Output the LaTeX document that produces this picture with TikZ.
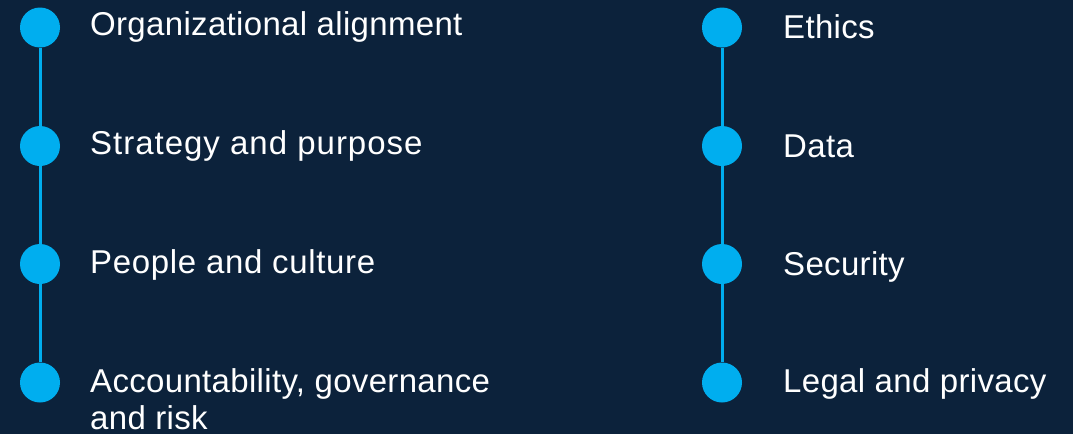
\documentclass[tikz,border=0pt]{standalone}
\usepackage{fontspec}
\setmainfont{Liberation Sans}[LetterSpace=1.0]
\usepackage{tikz}
\definecolor{navy}{HTML}{0C223B}
\definecolor{dotblue}{HTML}{00AEEF}
\newcommand{\itemSize}[0]{\fontsize{33}{37}\selectfont}

\begin{document}
\begin{tikzpicture}[x=1pt, y=-1pt]
  \tikzset{dot/.style={circle,fill=dotblue,minimum size=40pt,inner sep=0pt},
    link/.style={draw=dotblue,line width=3pt},
    item/.style={text=white,font=\itemSize,anchor=base west,align=left,inner sep=0pt},
    wide/.style={execute at begin node={\addfontfeature{LetterSpace=#1}}}}
  \fill[navy] (0,0) rectangle (1073,434);
  \useasboundingbox (0,0) rectangle (1073,434);
  \node[dot](L-1) at (40,27.5){};
  \node[dot](L-2) at (40,146){};
  \node[dot](L-3) at (40,264){};
  \node[dot](L-4) at (40,382.5){};
  \node[dot](R-1) at (722,27.5){};
  \node[dot](R-2) at (722,146){};
  \node[dot](R-3) at (722,264){};
  \node[dot](R-4) at (722,382.5){};
  \draw[link] (L-1) -- (L-2);
  \draw[link] (L-2) -- (L-3);
  \draw[link] (L-3) -- (L-4);
  \draw[link] (R-1) -- (R-2);
  \draw[link] (R-2) -- (R-3);
  \draw[link] (R-3) -- (R-4);
  \node[item](LT-1) at ([xshift=50pt,yshift=-8pt]L-1.center){Organizational alignment};
  \node[item,wide=3.0](LT-2) at ([xshift=50pt,yshift=-8pt]L-2.center){Strategy and purpose};
  \node[item,wide=2.0](LT-3) at ([xshift=50pt,yshift=-9pt]L-3.center){People and culture};
  \node[item](LT-4) at ([xshift=50pt,yshift=-47pt]L-4.center){Accountability, governance\\and risk};
  \node[item](RT-1) at ([xshift=61pt,yshift=-11pt]R-1.center){Ethics};
  \node[item](RT-2) at ([xshift=61pt,yshift=-11pt]R-2.center){Data};
  \node[item](RT-3) at ([xshift=61pt,yshift=-11pt]R-3.center){Security};
  \node[item](RT-4) at ([xshift=61pt,yshift=-10pt]R-4.center){Legal and privacy};
\end{tikzpicture}
\end{document}
